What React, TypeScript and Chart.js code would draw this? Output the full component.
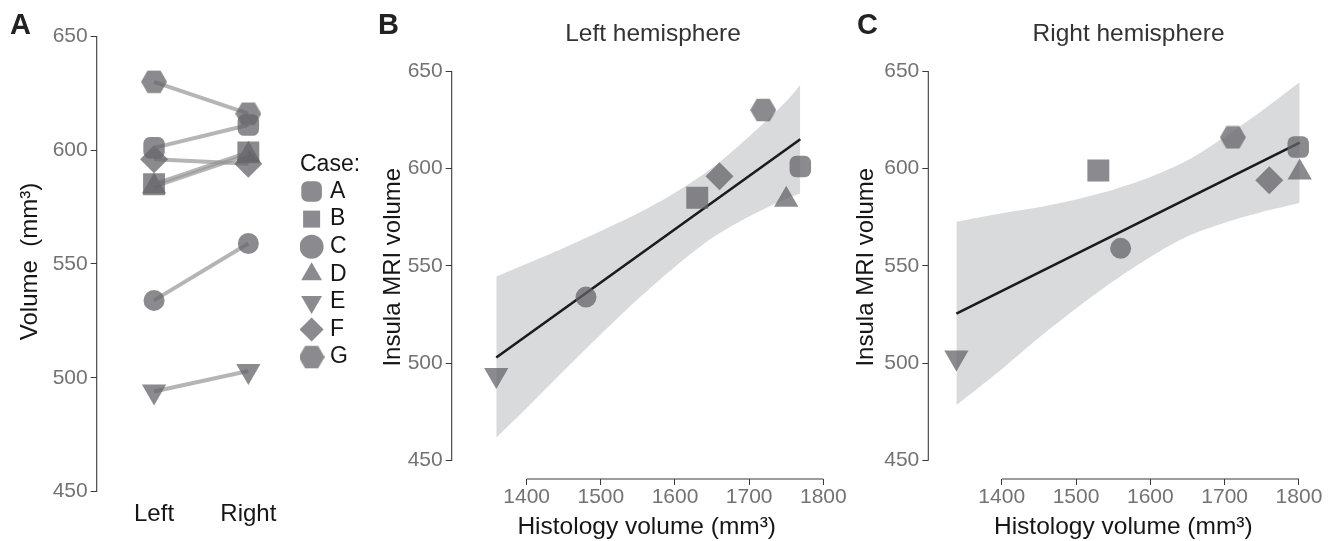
import React, { useEffect, useRef } from 'react';
import { Chart, registerables } from 'chart.js';

Chart.register(...registerables);

// ---------- data ----------
const cases = ['A', 'B', 'C', 'D', 'E', 'F', 'G'];
const sides = ['Left', 'Right'];
const leftMRI = [601, 585, 534, 584, 494, 596, 630];
const rightMRI = [611, 599, 559, 598, 503, 594, 616];
const leftHistology = [1769, 1630, 1480, 1750, 1359, 1660, 1719];
const rightHistology = [1799, 1530, 1560, 1801, 1339, 1760, 1711];
const volumeTicks = [450, 500, 550, 600, 650];
const histologyTicks = [1400, 1500, 1600, 1700, 1800];

const leftFitX = [1359, 1769];
const leftFitY = [503, 615];
const leftBandX = [1359, 1400, 1450, 1500, 1550, 1600, 1650, 1700, 1750, 1769];
const leftBandUpper = [544.5, 551.1, 559.2, 567.9, 577.0, 587.6, 600.3, 616.4, 634.5, 642.8];
const leftBandLower = [461.9, 477.1, 496.2, 514.9, 533.0, 549.6, 564.3, 575.4, 584.5, 587.2];

const rightFitX = [1339, 1801];
const rightFitY = [525.5, 613.3];
const rightBandX = [1339, 1400, 1450, 1500, 1550, 1600, 1650, 1700, 1750, 1801];
const rightBandUpper = [572.6, 577.0, 580.1, 584.1, 589.1, 595.6, 604.2, 616.2, 629.7, 644.3];
const rightBandLower = [478.6, 497.0, 513.1, 528.1, 542.1, 554.6, 565.2, 572.2, 577.7, 582.3];

// ---------- styles ----------
const FONT = "'Liberation Sans', Arial, Helvetica, sans-serif";
const MARKER = 'rgba(100,100,105,0.75)';
const LINE_A = 'rgba(150,150,150,0.7)';
const BAND = 'rgb(217,218,220)';
const TICK_COLOR = '#737373';
const AXIS_COLOR = '#3a3a3a';
const TEXT_COLOR = '#161616';
const H = 541;

Chart.defaults.font.family = FONT;

const markerRadius = [12.5, 15.5, 10.5, 14, 14, 14, 13];
const markerRotation = [0, 0, 0, 0, 180, 0, 0];

function makeHexagon(): HTMLCanvasElement {
  const c = document.createElement('canvas');
  c.width = 26;
  c.height = 24;
  const ctx = c.getContext('2d')!;
  const R = 13;
  ctx.beginPath();
  for (let k = 0; k < 6; k++) {
    const a = (Math.PI / 3) * k;
    const x = 13 + R * Math.cos(a);
    const y = 12 + R * Math.sin(a);
    if (k === 0) ctx.moveTo(x, y);
    else ctx.lineTo(x, y);
  }
  ctx.closePath();
  ctx.fillStyle = MARKER;
  ctx.fill();
  return c;
}

function markerStyles(hex: HTMLCanvasElement): any[] {
  return ['rectRounded', 'rect', 'circle', 'triangle', 'triangle', 'rectRot', hex];
}

const cappedAxes = {
  id: 'cappedAxes',
  beforeDatasetsDraw(chart: any, _args: any, opts: any) {
    const { ctx, chartArea } = chart;
    ctx.save();
    ctx.strokeStyle = AXIS_COLOR;
    ctx.lineWidth = 1.1;
    if (opts.y) {
      const s = chart.scales.y;
      const t = s.ticks;
      const y1 = s.getPixelForValue(t[0].value);
      const y2 = s.getPixelForValue(t[t.length - 1].value);
      ctx.beginPath();
      ctx.moveTo(chartArea.left, y1);
      ctx.lineTo(chartArea.left, y2);
      ctx.stroke();
    }
    if (opts.x) {
      const s = chart.scales.x;
      const t = s.ticks;
      const x1 = s.getPixelForValue(t[0].value);
      const x2 = s.getPixelForValue(t[t.length - 1].value);
      ctx.beginPath();
      ctx.moveTo(x1, chartArea.bottom);
      ctx.lineTo(x2, chartArea.bottom);
      ctx.stroke();
    }
    ctx.restore();
  },
};

function yVolumeScale(min: number, max: number, width: number, titleText: string, titlePad: number) {
  return {
    type: 'linear',
    min,
    max,
    grid: { display: true, drawOnChartArea: false, drawTicks: true, tickLength: 6, color: AXIS_COLOR, lineWidth: 1 },
    border: { display: false },
    afterBuildTicks: (s: any) => {
      s.ticks = volumeTicks.map((v) => ({ value: v }));
    },
    ticks: { font: { size: 21, family: FONT }, color: TICK_COLOR, padding: 3 },
    title: {
      display: true,
      text: titleText,
      font: { size: 24, family: FONT },
      color: TEXT_COLOR,
      padding: { top: titlePad, bottom: 0 },
    },
    afterFit: (s: any) => {
      s.width = width;
    },
  };
}

function buildPanelA(): any {
  const hex = makeHexagon();
  const styles = markerStyles(hex);
  return {
    type: 'line',
    data: {
      datasets: cases.map((c, i) => ({
        label: c,
        data: [
          { x: 1, y: leftMRI[i] },
          { x: 2, y: rightMRI[i] },
        ],
        borderColor: LINE_A,
        borderWidth: 4,
        pointStyle: styles[i],
        pointRadius: markerRadius[i],
        pointRotation: markerRotation[i],
        pointBackgroundColor: MARKER,
        pointBorderColor: 'rgba(0,0,0,0)',
        pointBorderWidth: 0,
        fill: false,
      })),
    },
    options: {
      responsive: false,
      animation: false,
      devicePixelRatio: 1,
      events: [],
      layout: { padding: { left: 0, top: 26, right: 22, bottom: 0 } },
      scales: {
        x: {
          type: 'linear',
          min: 0.392,
          max: 2.548,
          grid: { display: false, drawTicks: false },
          border: { display: false },
          afterBuildTicks: (s: any) => {
            s.ticks = sides.map((_, i) => ({ value: i + 1 }));
          },
          ticks: {
            callback: (v: any) => sides[Math.round(v) - 1],
            font: { size: 24, family: FONT },
            color: TEXT_COLOR,
            padding: 2.6,
            maxRotation: 0,
            autoSkip: false,
          },
          afterFit: (s: any) => {
            s.height = 44;
          },
        },
        y: yVolumeScale(447.67, 654.5, 96.7, 'Volume  (mm³)', 15.6),
      },
      plugins: {
        legend: {
          display: true,
          position: 'right',
          align: 'center',
          fullSize: false,
          labels: {
            usePointStyle: true,
            boxWidth: 14,
            boxHeight: 17,
            padding: 4.6,
            color: TEXT_COLOR,
            font: { size: 23, family: FONT },
          },
          title: {
            display: true,
            text: 'Case:',
            position: 'start',
            color: TEXT_COLOR,
            font: { size: 23, family: FONT },
            padding: { top: 3, bottom: -5 },
          },
        },
        title: { display: false },
        tooltip: { enabled: false },
        cappedAxes: { x: false, y: true },
      },
    },
    plugins: [cappedAxes],
  };
}

function buildScatterPanel(p: {
  title: string;
  hist: number[];
  mri: number[];
  fitX: number[];
  fitY: number[];
  bandX: number[];
  bandUpper: number[];
  bandLower: number[];
  xMin: number;
  xMax: number;
  yAxisWidth: number;
  rightWidth: number;
  yTitlePad: number;
}): any {
  const hex = makeHexagon();
  const styles = markerStyles(hex);
  return {
    type: 'line',
    data: {
      datasets: [
        {
          label: 'cases',
          data: p.hist.map((x, i) => ({ x, y: p.mri[i] })),
          showLine: false,
          pointStyle: styles,
          pointRadius: markerRadius,
          pointRotation: markerRotation,
          pointBackgroundColor: MARKER,
          pointBorderColor: 'rgba(0,0,0,0)',
          pointBorderWidth: 0,
        },
        {
          label: 'fit',
          data: p.fitX.map((x, i) => ({ x, y: p.fitY[i] })),
          borderColor: '#1b1b1b',
          borderWidth: 2.6,
          pointRadius: 0,
          fill: false,
        },
        {
          label: 'upper',
          data: p.bandX.map((x, i) => ({ x, y: p.bandUpper[i] })),
          borderColor: 'rgba(0,0,0,0)',
          borderWidth: 0,
          pointRadius: 0,
          tension: 0.3,
          backgroundColor: BAND,
          fill: '+1',
        },
        {
          label: 'lower',
          data: p.bandX.map((x, i) => ({ x, y: p.bandLower[i] })),
          borderColor: 'rgba(0,0,0,0)',
          borderWidth: 0,
          pointRadius: 0,
          tension: 0.3,
          fill: false,
        },
      ],
    },
    options: {
      responsive: false,
      animation: false,
      devicePixelRatio: 1,
      events: [],
      layout: { padding: 0 },
      scales: {
        x: {
          type: 'linear',
          min: p.xMin,
          max: p.xMax,
          grid: { display: true, drawOnChartArea: false, drawTicks: true, tickLength: 6, color: AXIS_COLOR, lineWidth: 1 },
          border: { display: false },
          afterBuildTicks: (s: any) => {
            s.ticks = histologyTicks.map((v) => ({ value: v }));
          },
          ticks: {
            font: { size: 21, family: FONT },
            color: TICK_COLOR,
            padding: -0.5,
            maxRotation: 0,
            autoSkip: false,
            callback: (v: any) => String(v),
          },
          title: {
            display: true,
            text: 'Histology volume (mm³)',
            font: { size: 24.5, family: FONT },
            color: TEXT_COLOR,
            padding: { top: 0, bottom: -1 },
          },
          afterFit: (s: any) => {
            s.height = 62;
          },
        },
        y: yVolumeScale(440.6, 658.05, p.yAxisWidth, 'Insula MRI volume', p.yTitlePad),
        y2: {
          type: 'linear',
          position: 'right',
          display: true,
          grid: { display: false, drawTicks: false },
          border: { display: false },
          ticks: { display: false },
          afterFit: (s: any) => {
            s.width = p.rightWidth;
          },
        },
      },
      plugins: {
        legend: { display: false },
        title: {
          display: true,
          text: p.title,
          color: '#333333',
          font: { size: 24.5, family: FONT, weight: 'normal' },
          padding: { top: 20, bottom: 6 },
        },
        tooltip: { enabled: false },
        cappedAxes: { x: true, y: true },
      },
    },
    plugins: [cappedAxes],
  };
}

function ChartCanvas({ left, width, build }: { left: number; width: number; build: () => any }) {
  const ref = useRef<HTMLCanvasElement>(null);
  useEffect(() => {
    const chart = new Chart(ref.current as HTMLCanvasElement, build());
    return () => chart.destroy();
  }, []);
  return (
    <canvas
      ref={ref}
      width={width}
      height={H}
      style={{ position: 'absolute', left, top: 0, width, height: H, display: 'block' }}
    />
  );
}

const letterStyle: React.CSSProperties = {
  position: 'absolute',
  top: 10,
  fontFamily: FONT,
  fontWeight: 'bold',
  fontSize: 29,
  lineHeight: 1,
  color: '#222',
  margin: 0,
};

export default function App() {
  return (
    <div
      style={{
        position: 'fixed',
        left: 0,
        top: 0,
        width: 1339,
        height: H,
        overflow: 'hidden',
        background: '#ffffff',
      }}
    >
      <ChartCanvas left={0} width={380} build={buildPanelA} />
      <ChartCanvas
        left={380}
        width={546}
        build={() =>
          buildScatterPanel({
            title: 'Left hemisphere',
            hist: leftHistology,
            mri: leftMRI,
            fitX: leftFitX,
            fitY: leftFitY,
            bandX: leftBandX,
            bandUpper: leftBandUpper,
            bandLower: leftBandLower,
            xMin: 1298.9,
            xMax: 1824.8,
            yAxisWidth: 71.7,
            rightWidth: 84.3,
            yTitlePad: -1.1,
          })
        }
      />
      <ChartCanvas
        left={850}
        width={557}
        build={() =>
          buildScatterPanel({
            title: 'Right hemisphere',
            hist: rightHistology,
            mri: rightMRI,
            fitX: rightFitX,
            fitY: rightFitY,
            bandX: rightBandX,
            bandUpper: rightBandUpper,
            bandLower: rightBandLower,
            xMin: 1301.2,
            xMax: 1826.0,
            yAxisWidth: 78.3,
            rightWidth: 88.7,
            yTitlePad: 2.3,
          })
        }
      />
      <div style={{ ...letterStyle, left: 10 }}>A</div>
      <div style={{ ...letterStyle, left: 378 }}>B</div>
      <div style={{ ...letterStyle, left: 857 }}>C</div>
    </div>
  );
}
